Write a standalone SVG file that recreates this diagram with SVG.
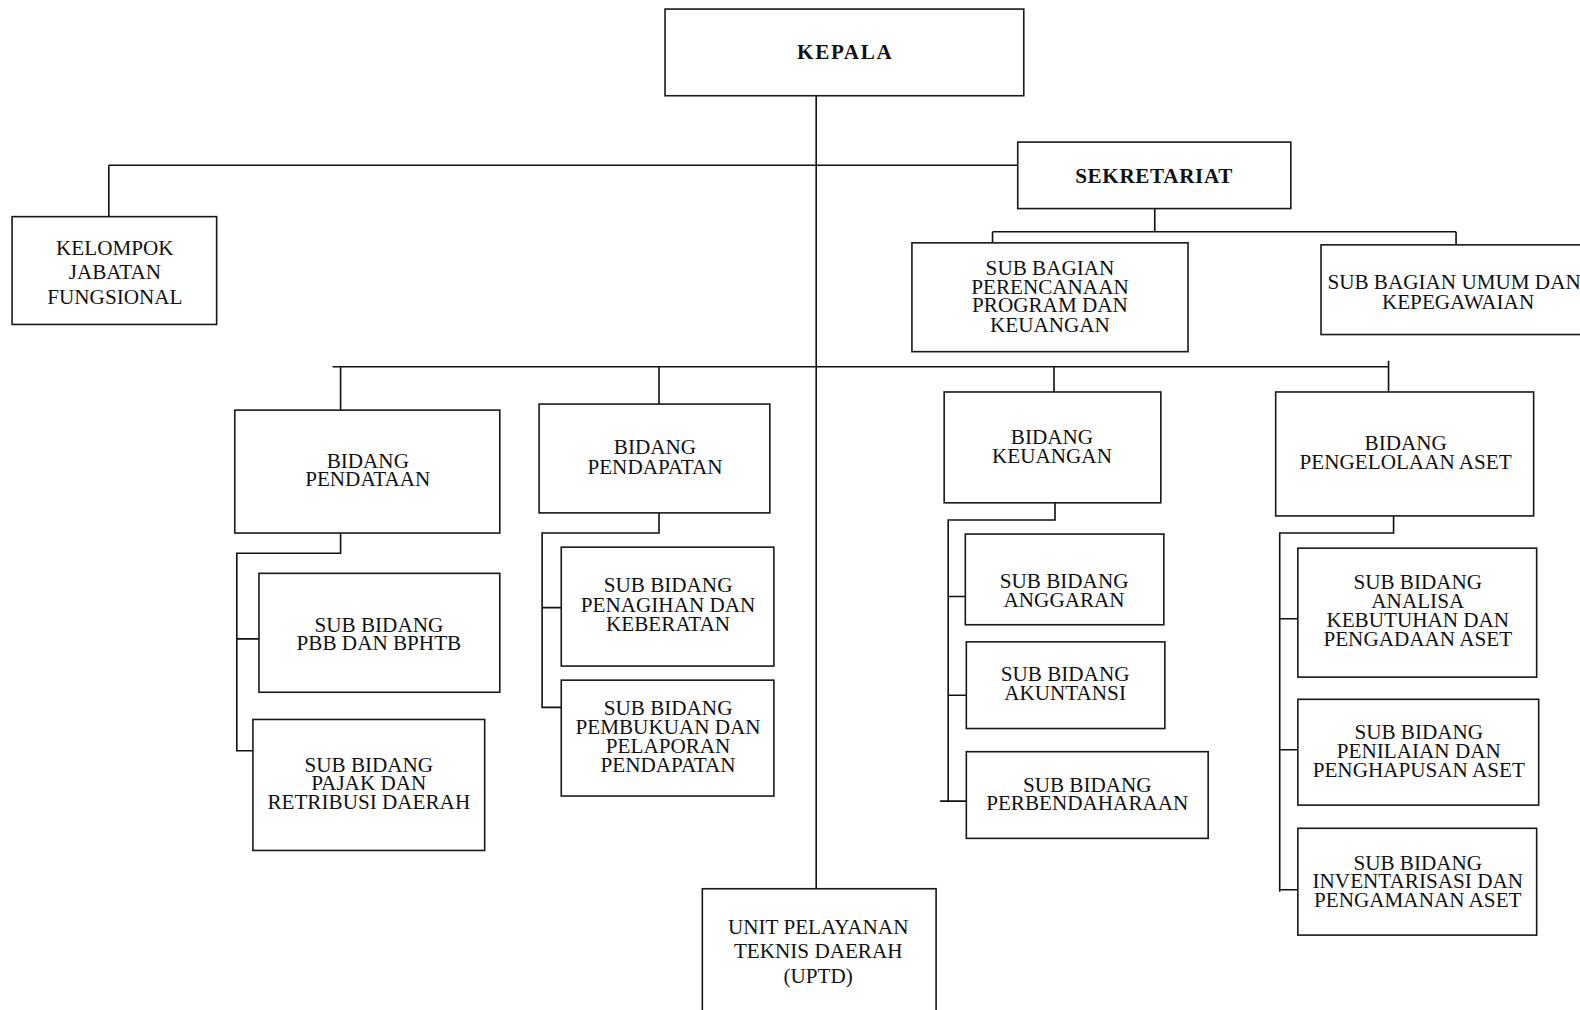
<svg xmlns="http://www.w3.org/2000/svg" width="1580" height="1010" viewBox="0 0 1580 1010">
<style>
.box{fill:#fff;stroke:#1a1a1a;stroke-width:1.6}
.t{font-family:"Liberation Serif","Times New Roman",serif;font-size:21px;fill:#111;text-anchor:middle}
.b{font-family:"Liberation Serif","Times New Roman",serif;font-size:21px;font-weight:bold;fill:#111;text-anchor:middle}
.c{fill:none;stroke:#111;stroke-width:1.6}
</style>
<rect width="1580" height="1010" fill="#fff"/>
<g transform="scale(1.00765)">
<g id="connectors" class="c">
<path d="M810,95 V882"/>
<path d="M108,164 H1010 M108,164 V215"/>
<path d="M1146,207 V230 M985,230 H1445 M985,230 V241 M1445,230 V243"/>
<path d="M330,364 H1378 M338,364 V407 M654,364 V401 M1046,364 V389 M1378,358 V392"/>
<path d="M338,529 V549 H235 V745 H251 M235,634 H257"/>
<path d="M654,509 V529 H538 V702 H557 M538,603 H557"/>
<path d="M1047,499 V516 H941 V795 M941,592 H958 M941,690 H959 M933,795 H959"/>
<path d="M1383,512 V529 H1270 V885 M1270,614 H1288 M1270,744 H1288 M1270,883 H1288"/>
</g>
<g id="kepala"><rect class="box" x="660" y="9" width="356" height="86"/><text class="b" x="838" y="59" textLength="94">KEPALA</text></g>
<g id="sekretariat"><rect class="box" x="1010" y="141" width="271" height="66"/><text class="b" x="1145" y="182" textLength="156">SEKRETARIAT</text></g>
<g id="kelompok"><rect class="box" x="12" y="215" width="203" height="107"/><text class="t" x="114" y="253">KELOMPOK</text><text class="t" x="114" y="277">JABATAN</text><text class="t" x="114" y="302">FUNGSIONAL</text></g>
<g id="subbag-perencanaan"><rect class="box" x="905" y="241" width="274" height="108"/><text class="t" x="1042" y="273">SUB BAGIAN</text><text class="t" x="1042" y="292">PERENCANAAN</text><text class="t" x="1042" y="310">PROGRAM DAN</text><text class="t" x="1042" y="329">KEUANGAN</text></g>
<g id="subbag-umum"><rect class="box" x="1311" y="243" width="290" height="89"/><text class="t" x="1443" y="287">SUB BAGIAN UMUM DAN</text><text class="t" x="1447" y="307">KEPEGAWAIAN</text></g>
<g id="bidang-pendataan"><rect class="box" x="233" y="407" width="263" height="122"/><text class="t" x="365" y="464">BIDANG</text><text class="t" x="365" y="482">PENDATAAN</text></g>
<g id="bidang-pendapatan"><rect class="box" x="535" y="401" width="229" height="108"/><text class="t" x="650" y="451">BIDANG</text><text class="t" x="650" y="470">PENDAPATAN</text></g>
<g id="bidang-keuangan"><rect class="box" x="937" y="389" width="215" height="110"/><text class="t" x="1044" y="441">BIDANG</text><text class="t" x="1044" y="459">KEUANGAN</text></g>
<g id="bidang-aset"><rect class="box" x="1266" y="389" width="256" height="123"/><text class="t" x="1395" y="447">BIDANG</text><text class="t" x="1395" y="465">PENGELOLAAN ASET</text></g>
<g id="sub-pbb"><rect class="box" x="257" y="569" width="239" height="118"/><text class="t" x="376" y="627">SUB BIDANG</text><text class="t" x="376" y="645">PBB DAN BPHTB</text></g>
<g id="sub-pajak"><rect class="box" x="251" y="714" width="230" height="130"/><text class="t" x="366" y="766">SUB BIDANG</text><text class="t" x="366" y="784">PAJAK DAN</text><text class="t" x="366" y="803">RETRIBUSI DAERAH</text></g>
<g id="sub-penagihan"><rect class="box" x="557" y="543" width="211" height="118"/><text class="t" x="663" y="588">SUB BIDANG</text><text class="t" x="663" y="607">PENAGIHAN DAN</text><text class="t" x="663" y="626">KEBERATAN</text></g>
<g id="sub-pembukuan"><rect class="box" x="557" y="675" width="211" height="115"/><text class="t" x="663" y="710">SUB BIDANG</text><text class="t" x="663" y="728">PEMBUKUAN DAN</text><text class="t" x="663" y="747">PELAPORAN</text><text class="t" x="663" y="766">PENDAPATAN</text></g>
<g id="sub-anggaran"><rect class="box" x="958" y="530" width="197" height="90"/><text class="t" x="1056" y="584">SUB BIDANG</text><text class="t" x="1056" y="602">ANGGARAN</text></g>
<g id="sub-akuntansi"><rect class="box" x="959" y="637" width="197" height="86"/><text class="t" x="1057" y="676">SUB BIDANG</text><text class="t" x="1057" y="695">AKUNTANSI</text></g>
<g id="sub-perbendaharaan"><rect class="box" x="959" y="746" width="240" height="86"/><text class="t" x="1079" y="786">SUB BIDANG</text><text class="t" x="1079" y="804">PERBENDAHARAAN</text></g>
<g id="sub-analisa"><rect class="box" x="1288" y="544" width="237" height="128"/><text class="t" x="1407" y="585">SUB BIDANG</text><text class="t" x="1407" y="603">ANALISA</text><text class="t" x="1407" y="622">KEBUTUHAN DAN</text><text class="t" x="1407" y="641">PENGADAAN ASET</text></g>
<g id="sub-penilaian"><rect class="box" x="1288" y="694" width="239" height="105"/><text class="t" x="1408" y="733">SUB BIDANG</text><text class="t" x="1408" y="752">PENILAIAN DAN</text><text class="t" x="1408" y="771">PENGHAPUSAN ASET</text></g>
<g id="sub-inventarisasi"><rect class="box" x="1288" y="822" width="237" height="106"/><text class="t" x="1407" y="863">SUB BIDANG</text><text class="t" x="1407" y="881">INVENTARISASI DAN</text><text class="t" x="1407" y="900">PENGAMANAN ASET</text></g>
<g id="uptd"><rect class="box" x="697" y="882" width="232" height="140"/><text class="t" x="812" y="927">UNIT PELAYANAN</text><text class="t" x="812" y="951">TEKNIS DAERAH</text><text class="t" x="812" y="976">(UPTD)</text></g>
</g>
</svg>
